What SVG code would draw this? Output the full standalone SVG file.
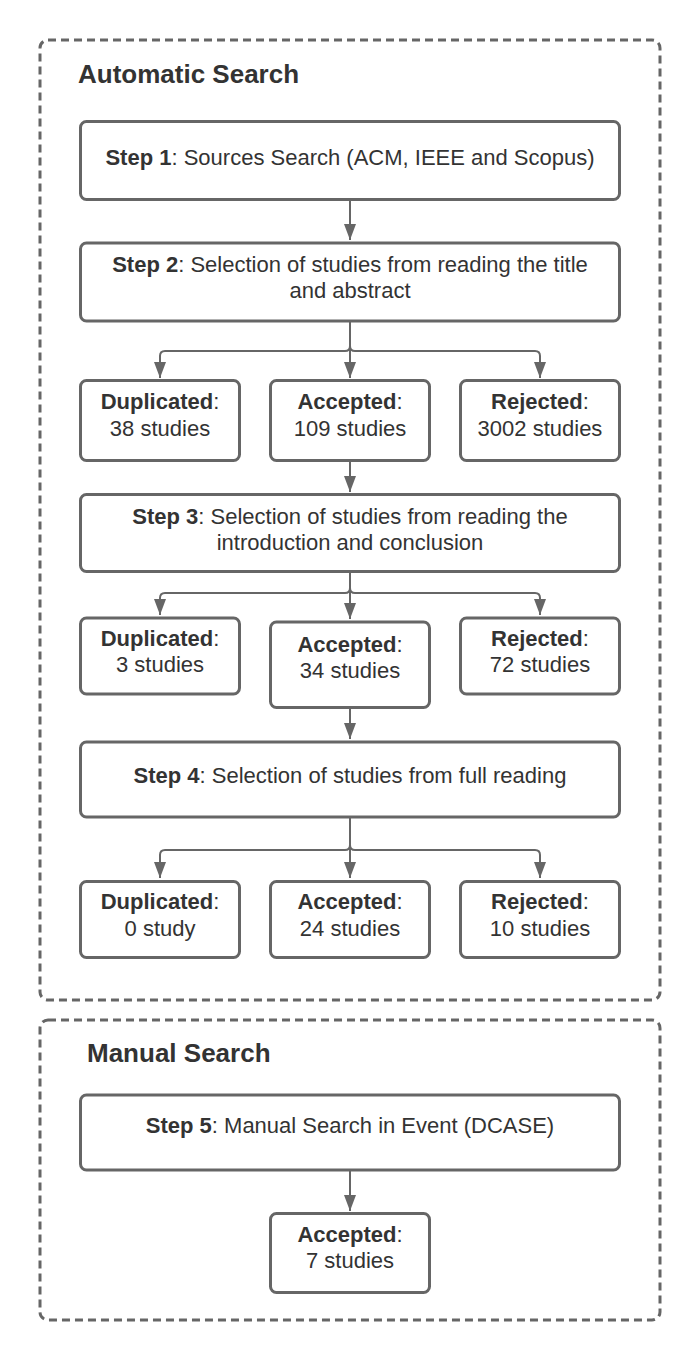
<svg xmlns="http://www.w3.org/2000/svg" width="700" height="1360" viewBox="0 0 700 1360">
<style>
.cont{fill:none;stroke:#666;stroke-width:3;stroke-dasharray:8 5}
.box{fill:#fff;stroke:#666;stroke-width:3}
.t{font-family:"Liberation Sans",Arial,sans-serif;font-size:22px;fill:#333;text-anchor:middle}
.b{font-weight:bold}
.title{font-family:"Liberation Sans",Arial,sans-serif;font-size:26px;font-weight:bold;fill:#333}
.c{fill:none;stroke:#666;stroke-width:2}
</style>
<defs>
<marker id="ah" markerUnits="userSpaceOnUse" markerWidth="16" markerHeight="12" refX="16" refY="6" orient="auto">
<path d="M0,0 L16,6 L0,12 Z" fill="#666"/>
</marker>
</defs>
<rect width="700" height="1360" fill="#fff"/>
<g id="auto-container">
<rect class="cont" x="40" y="40" width="620" height="960" rx="8"/>
<text class="title" x="78" y="83">Automatic Search</text>
</g>
<g id="manual-container">
<rect class="cont" x="40" y="1020" width="620" height="300" rx="8"/>
<text class="title" x="87" y="1062">Manual Search</text>
</g>
<g id="connectors">
<path class="c" d="M350,200 V240" marker-end="url(#ah)"/>
<path class="c" d="M350,322 V346 Q350,351 345,351 H165 Q160,351 160,356 V378" marker-end="url(#ah)"/>
<path class="c" d="M350,322 V378" marker-end="url(#ah)"/>
<path class="c" d="M350,322 V346 Q350,351 355,351 H535 Q540,351 540,356 V378" marker-end="url(#ah)"/>
<path class="c" d="M350,462 V492" marker-end="url(#ah)"/>
<path class="c" d="M350,572 V588 Q350,593 345,593 H165 Q160,593 160,598 V615" marker-end="url(#ah)"/>
<path class="c" d="M350,572 V619" marker-end="url(#ah)"/>
<path class="c" d="M350,572 V588 Q350,593 355,593 H535 Q540,593 540,598 V615" marker-end="url(#ah)"/>
<path class="c" d="M350,709 V739" marker-end="url(#ah)"/>
<path class="c" d="M350,818 V845 Q350,850 345,850 H165 Q160,850 160,855 V878" marker-end="url(#ah)"/>
<path class="c" d="M350,818 V878" marker-end="url(#ah)"/>
<path class="c" d="M350,818 V845 Q350,850 355,850 H535 Q540,850 540,855 V878" marker-end="url(#ah)"/>
<path class="c" d="M350,1171 V1211" marker-end="url(#ah)"/>
</g>
<g id="step1">
<rect class="box" x="80.5" y="121.5" width="539" height="78" rx="6"/>
<text class="t" x="350" y="165"><tspan class="b">Step 1</tspan>: Sources Search (ACM, IEEE and Scopus)</text>
</g>
<g id="step2">
<rect class="box" x="80.5" y="243" width="539" height="78" rx="6"/>
<text class="t" x="350" y="272"><tspan class="b">Step 2</tspan>: Selection of studies from reading the title</text>
<text class="t" x="350" y="298">and abstract</text>
</g>
<g id="dup1">
<rect class="box" x="80.5" y="380.5" width="159" height="80" rx="6"/>
<text class="t" x="160" y="409"><tspan class="b">Duplicated</tspan>:</text>
<text class="t" x="160" y="436">38 studies</text>
</g>
<g id="acc1">
<rect class="box" x="270.5" y="380.5" width="159" height="80" rx="6"/>
<text class="t" x="350" y="409"><tspan class="b">Accepted</tspan>:</text>
<text class="t" x="350" y="436">109 studies</text>
</g>
<g id="rej1">
<rect class="box" x="460.5" y="380.5" width="159" height="80" rx="6"/>
<text class="t" x="540" y="409"><tspan class="b">Rejected</tspan>:</text>
<text class="t" x="540" y="436">3002 studies</text>
</g>
<g id="step3">
<rect class="box" x="80.5" y="494.5" width="539" height="77" rx="6"/>
<text class="t" x="350" y="524"><tspan class="b">Step 3</tspan>: Selection of studies from reading the</text>
<text class="t" x="350" y="550">introduction and conclusion</text>
</g>
<g id="dup2">
<rect class="box" x="80.5" y="618" width="159" height="76" rx="6"/>
<text class="t" x="160" y="646"><tspan class="b">Duplicated</tspan>:</text>
<text class="t" x="160" y="672">3 studies</text>
</g>
<g id="acc2">
<rect class="box" x="270.5" y="622" width="159" height="85.5" rx="6"/>
<text class="t" x="350" y="652"><tspan class="b">Accepted</tspan>:</text>
<text class="t" x="350" y="678">34 studies</text>
</g>
<g id="rej2">
<rect class="box" x="460.5" y="618" width="159" height="76" rx="6"/>
<text class="t" x="540" y="646"><tspan class="b">Rejected</tspan>:</text>
<text class="t" x="540" y="672">72 studies</text>
</g>
<g id="step4">
<rect class="box" x="80.5" y="742" width="539" height="75" rx="6"/>
<text class="t" x="350" y="783"><tspan class="b">Step 4</tspan>: Selection of studies from full reading</text>
</g>
<g id="dup3">
<rect class="box" x="80.5" y="881.5" width="159" height="76" rx="6"/>
<text class="t" x="160" y="909"><tspan class="b">Duplicated</tspan>:</text>
<text class="t" x="160" y="936">0 study</text>
</g>
<g id="acc3">
<rect class="box" x="270.5" y="881.5" width="159" height="76" rx="6"/>
<text class="t" x="350" y="909"><tspan class="b">Accepted</tspan>:</text>
<text class="t" x="350" y="936">24 studies</text>
</g>
<g id="rej3">
<rect class="box" x="460.5" y="881.5" width="159" height="76" rx="6"/>
<text class="t" x="540" y="909"><tspan class="b">Rejected</tspan>:</text>
<text class="t" x="540" y="936">10 studies</text>
</g>
<g id="step5">
<rect class="box" x="80.5" y="1095" width="539" height="75" rx="6"/>
<text class="t" x="350" y="1133"><tspan class="b">Step 5</tspan>: Manual Search in Event (DCASE)</text>
</g>
<g id="acc5">
<rect class="box" x="270.5" y="1213.5" width="159" height="79" rx="6"/>
<text class="t" x="350" y="1242"><tspan class="b">Accepted</tspan>:</text>
<text class="t" x="350" y="1268">7 studies</text>
</g>
</svg>
